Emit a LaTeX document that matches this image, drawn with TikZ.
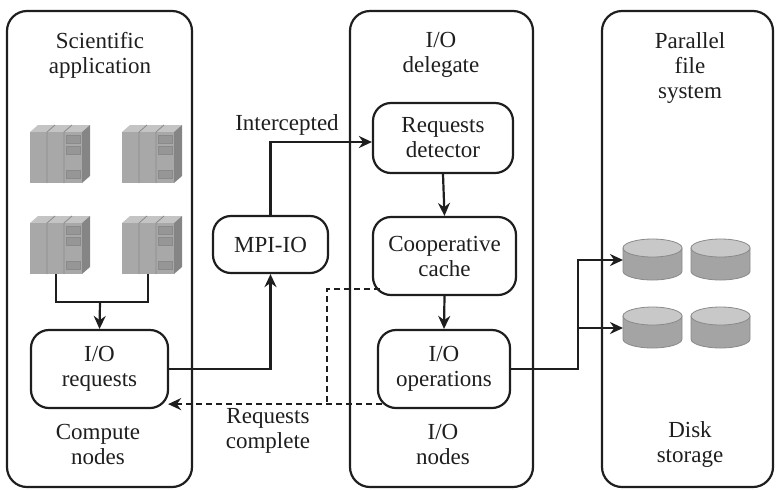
\documentclass[tikz,border=0pt]{standalone}
\usepackage{fontspec}
\setmainfont{Liberation Serif}
\usetikzlibrary{arrows.meta,calc}

\definecolor{ink}{HTML}{1E1E1E}
\definecolor{srvfront}{HTML}{A8A8A8}
\definecolor{srvside}{HTML}{858585}
\definecolor{srvtop}{HTML}{C4C4C4}
\definecolor{srvslot}{HTML}{969696}
\definecolor{srvedge}{HTML}{8A8A8A}
\definecolor{disktop}{HTML}{C8C8C8}
\definecolor{diskside}{HTML}{A4A4A4}
\definecolor{diskedge}{HTML}{8A8A8A}

\newcommand{\lblfont}{\fontsize{11.5}{12.5}\selectfont}

\tikzset{
  panel/.style={draw=ink, line width=1.1pt, rounded corners=10pt, inner sep=0pt},
  box/.style={draw=ink, line width=1.1pt, rounded corners=9pt, align=center,
              inner sep=0pt, font=\lblfont, text=ink},
  lbl/.style={align=center, font=\lblfont, text=ink, inner sep=0pt},
  link/.style={draw=ink, line width=1.1pt},
  arr/.style={link, -{Stealth[length=6.5pt,width=6pt]}},
  dlink/.style={link, dash pattern=on 3pt off 2pt},
  % rack server drawn from its top-left corner (units are pixels, y down)
  pics/rack/.style={code={
    \fill[srvtop] (0,7) -- (8,0) -- (60,0) -- (52,7) -- cycle;
    \fill[srvside] (52,7) -- (60,0) -- (60,51) -- (52,58) -- cycle;
    \fill[srvfront] (0,7) rectangle (52,58);
    \draw[srvedge, line width=0.4pt] (17,7) -- (25,0) (34,7) -- (42,0)
      (17,7) -- (17,58) (34,7) -- (34,58);
    \fill[srvslot, draw=srvedge, line width=0.3pt]
      (36,10) rectangle (50,18) (36,21) rectangle (50,29) (36,45) rectangle (50,53);
    \coordinate (-bot) at (26,58);
  }},
  % disk drawn from the left end of its top ellipse
  pics/disk/.style={code={
    \fill[diskside, draw=diskedge, line width=0.4pt]
      (0,0) -- (0,23) arc[start angle=180, end angle=360, x radius=29.5, y radius=-9]
      -- (59,0) -- cycle;
    \fill[disktop, draw=diskedge, line width=0.4pt]
      (29.5,0) ellipse[x radius=29.5, y radius=9];
    \coordinate (-w) at (0,12);
  }},
}

\begin{document}
\begin{tikzpicture}[x=0.5pt, y=-0.5pt]
  \useasboundingbox (0,0) rectangle (777,489);

  % three columns
  \node[panel, minimum width=92.5pt, minimum height=238pt] (pcomp) at (99.5,249) {};
  \node[panel, minimum width=91.5pt, minimum height=238pt] (pio) at (441.5,249) {};
  \node[panel, minimum width=85.5pt, minimum height=238pt] (pfs) at (687.5,249) {};

  % column titles
  \node[lbl] (tapp) at (100,55) {Scientific\\application};
  \node[lbl] (tdel) at (441,55) {I/O\\delegate};
  \node[lbl] (tpfs) at (690,68) {Parallel\\file\\system};
  \node[lbl] (tcomp) at (98,444) {Compute\\nodes};
  \node[lbl] (tion) at (443,444) {I/O\\nodes};
  \node[lbl] (tdisk) at (690,444) {Disk\\storage};

  % compute servers
  \pic (s1) at (30,125) {rack};
  \pic (s2) at (122,125) {rack};
  \pic (s3) at (30,216) {rack};
  \pic (s4) at (122,216) {rack};

  % disks
  \pic (d1) at (623,248) {disk};
  \pic (d2) at (691,248) {disk};
  \pic (d3) at (623,316) {disk};
  \pic (d4) at (691,316) {disk};

  % processing boxes
  \node[box, minimum width=68.5pt, minimum height=39pt] (ioreq) at (99.5,369) {I/O\\requests};
  \node[box, minimum width=57.5pt, minimum height=28.5pt] (mpi) at (270.5,244.5) {MPI-IO};
  \node[box, minimum width=70pt, minimum height=35pt] (reqdet) at (443,138) {Requests\\detector};
  \node[box, minimum width=71.5pt, minimum height=39pt] (coop) at (444.5,256) {Cooperative\\cache};
  \node[box, minimum width=66pt, minimum height=39pt] (ioops) at (444,369) {I/O\\operations};

  % servers feed the request box
  \coordinate (sj) at (100,302);
  \draw[link] (s3-bot) |- (sj) -| (s4-bot);
  \draw[arr] (sj) -- (ioreq.north);

  % requests through MPI-IO to the delegate
  \draw[arr] (ioreq.east) -| (mpi.south);
  \draw[arr] (mpi.north) |- ([yshift=-2pt]reqdet.west);
  \node[lbl] (tint) at (287,125) {Intercepted};
  \draw[arr] (reqdet.south) -- (coop.north);
  \draw[arr] (coop.south) -- (ioops.north);

  % completion notices back to the compute nodes
  \coordinate (ccl) at ($(coop.south west)+(8,-7)$);
  \coordinate (opl) at ($(ioops.south west)+(5,-5)$);
  \coordinate (rqt) at ($(ioreq.south east)+(-1,-5)$);
  \coordinate (dj) at (327,403);
  \draw[dlink] (ccl) -| (dj);
  \draw[dlink, -{Stealth[length=6.5pt,width=6pt]}] (opl) -- (rqt);
  \node[lbl] (tcpl) at (268,431) {Requests\\complete};

  % operations to the parallel file system
  \coordinate (fj) at ($(d1-w)+(-45,0)$);
  \draw[arr] (ioops.east) -| (fj) -- (d1-w);
  \draw[arr] ($(d3-w)+(-45,0)$) -- (d3-w);
\end{tikzpicture}
\end{document}
